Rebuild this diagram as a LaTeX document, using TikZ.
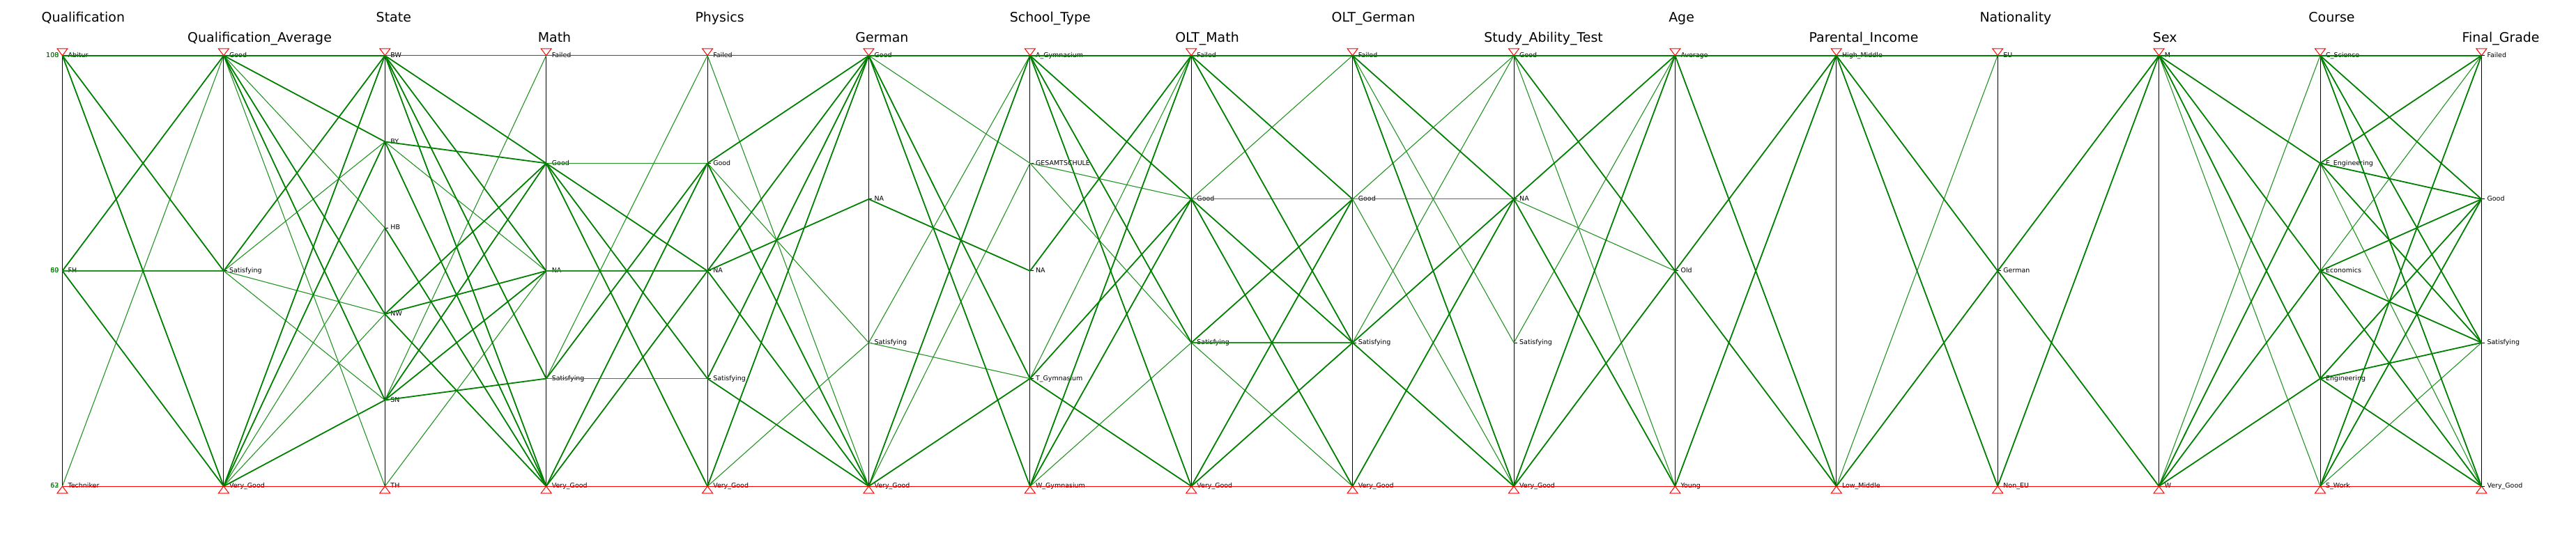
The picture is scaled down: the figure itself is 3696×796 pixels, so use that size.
\documentclass[tikz,border=0pt]{standalone}
\usepackage{fontspec}
\setmainfont{DejaVu Sans}

\definecolor{bundlegreen}{RGB}{0,128,0}
\definecolor{singlegreen}{RGB}{35,148,35}
% title sits a quarter of its width left of the axis
\newcommand\axistitle[1]{\setbox0=\hbox{#1}\hspace*{.5\wd0}\box0}

\begin{document}
\begin{tikzpicture}[x=1pt, y=-1pt,
    axisline/.style={draw=black, line width=1pt},
    tickmark/.style={draw=black, line width=1pt},
    vallabel/.style={font=\fontsize{9.5}{11}\selectfont, inner sep=0pt},
    titlelabel/.style={font=\fontsize{19}{21}\selectfont, inner sep=0pt},
    countlabel/.style={text=bundlegreen, font=\fontsize{9.5}{11}\selectfont, inner sep=0pt},
    limitmark/.style={draw=red, line width=1pt},
    limitline/.style={draw=red, line width=1pt},
    bundle/.style={draw=bundlegreen, line width=1.8pt},
    single/.style={draw=singlegreen, line width=1.1pt}]
    \fill[white] (0,0) rectangle (3696,796);

    % axes, ticks, value labels and titles
    \foreach \nm/\i/\nv/\ttl/\vals in {
        qual/0/3/Qualification/{Abitur,FH,Techniker},
        qavg/1/3/Qualification\_Average/{Good,Satisfying,Very\_Good},
        state/2/6/State/{BW,BY,HB,NW,SN,TH},
        math/3/5/Math/{Failed,Good,NA,Satisfying,Very\_Good},
        phys/4/5/Physics/{Failed,Good,NA,Satisfying,Very\_Good},
        germ/5/4/German/{Good,NA,Satisfying,Very\_Good},
        school/6/5/School\_Type/{A\_Gymnasium,GESAMTSCHULE,NA,T\_Gymnasium,W\_Gymnasium},
        oltm/7/4/OLT\_Math/{Failed,Good,Satisfying,Very\_Good},
        oltg/8/4/OLT\_German/{Failed,Good,Satisfying,Very\_Good},
        sat/9/4/Study\_Ability\_Test/{Good,NA,Satisfying,Very\_Good},
        age/10/3/Age/{Average,Old,Young},
        income/11/2/Parental\_Income/{High\_Middle,Low\_Middle},
        nat/12/3/Nationality/{EU,German,Non\_EU},
        sex/13/2/Sex/{M,W},
        course/14/5/Course/{C\_Science,E\_Engineering,Economics,Engineering,S\_Work},
        grade/15/4/Final\_Grade/{Failed,Good,Satisfying,Very\_Good}} {
        \pgfmathsetmacro\xx{80+232*\i}
        \pgfmathsetmacro\ty{mod(\i,2)==0 ? 32 : 61}
        \node[titlelabel, anchor=base] (\nm-title) at (\xx,\ty) {\axistitle{\ttl}};
        \draw[axisline] (\xx,80) -- (\xx,700);
        \draw[limitmark] (\xx-7.5,70) -- (\xx+7.5,70) -- (\xx,80) -- cycle;
        \draw[limitmark] (\xx-7.5,710) -- (\xx+7.5,710) -- (\xx,700) -- cycle;
        \foreach \v [count=\cnt] in \vals {
            \pgfmathsetmacro\yy{80+620*(\cnt-1)/(\nv-1)}
            \coordinate (\nm-\cnt) at (\xx,\yy);
            \draw[tickmark] (\nm-\cnt) -- ++(5,0);
            \node[vallabel, anchor=mid west] (\nm-\cnt-text) at ([xshift=8pt]\nm-\cnt) {\v};
        }
    }

    % counts left of the first axis
    \node[countlabel, anchor=mid east] (count-top) at ([xshift=-5pt]qual-1) {100};
    \node[countlabel, anchor=mid east] (count-top-b) at ([xshift=-5pt]qual-1) {108};
    \node[countlabel, anchor=mid east] (count-mid) at ([xshift=-5pt]qual-2) {60};
    \node[countlabel, anchor=mid east] (count-mid-b) at ([xshift=-5pt]qual-2) {89};
    \node[countlabel, anchor=mid east] (count-low) at ([xshift=-5pt]qual-3) {62};
    \node[countlabel, anchor=mid east] (count-low-b) at ([xshift=-5pt]qual-3) {63};

    % Qualification -> Qualification_Average
    \foreach \a/\b in {2/2,3/1} \draw[single] (qual-\a) -- (qavg-\b);
    \foreach \a/\b in {1/1,1/2,1/3,2/1,2/3} \draw[bundle] (qual-\a) -- (qavg-\b);
    % Qualification_Average -> State
    \foreach \a/\b in {1/3,1/6,2/2,2/4,2/5,3/3,3/4} \draw[single] (qavg-\a) -- (state-\b);
    \foreach \a/\b in {1/1,1/2,1/4,1/5,2/1,3/1,3/2,3/5} \draw[bundle] (qavg-\a) -- (state-\b);
    % State -> Math
    \foreach \a/\b in {2/3,5/1,6/3} \draw[single] (state-\a) -- (math-\b);
    \foreach \a/\b in {1/2,1/3,1/4,1/5,2/2,2/5,3/5,4/2,4/3,4/5,5/2,5/3,5/4} \draw[bundle] (state-\a) -- (math-\b);
    % Math -> Physics
    \foreach \a/\b in {2/2,3/3,4/1,4/4} \draw[single] (math-\a) -- (phys-\b);
    \foreach \a/\b in {2/3,2/4,2/5,4/2,5/2,5/3} \draw[bundle] (math-\a) -- (phys-\b);
    % Physics -> German
    \foreach \a/\b in {1/4,2/3,5/3} \draw[single] (phys-\a) -- (germ-\b);
    \foreach \a/\b in {2/1,2/4,3/1,3/2,3/4,4/1,4/4,5/1} \draw[bundle] (phys-\a) -- (germ-\b);
    % German -> School_Type
    \foreach \a/\b in {1/2,3/1,3/4,4/2} \draw[single] (germ-\a) -- (school-\b);
    \foreach \a/\b in {1/1,1/4,1/5,2/3,4/1,4/4} \draw[bundle] (germ-\a) -- (school-\b);
    % School_Type -> OLT_Math
    \foreach \a/\b in {2/2,2/3,4/1,5/3} \draw[single] (school-\a) -- (oltm-\b);
    \foreach \a/\b in {1/1,1/2,1/3,1/4,3/1,4/2,4/4,5/1,5/2} \draw[bundle] (school-\a) -- (oltm-\b);
    % OLT_Math -> OLT_German
    \foreach \a/\b in {2/1,2/2,3/3,3/4} \draw[single] (oltm-\a) -- (oltg-\b);
    \foreach \a/\b in {1/1,1/2,1/3,2/3,2/4,3/2,4/2,4/3} \draw[bundle] (oltm-\a) -- (oltg-\b);
    % OLT_German -> Study_Ability_Test
    \foreach \a/\b in {1/3,2/1,2/2,2/4,3/1} \draw[single] (oltg-\a) -- (sat-\b);
    \foreach \a/\b in {1/1,1/2,1/4,3/2,3/4,4/2} \draw[bundle] (oltg-\a) -- (sat-\b);
    % Study_Ability_Test -> Age
    \foreach \a/\b in {1/3,2/2,3/1} \draw[single] (sat-\a) -- (age-\b);
    \foreach \a/\b in {1/1,1/2,2/1,2/3,4/1,4/2} \draw[bundle] (sat-\a) -- (age-\b);
    % Age -> Parental_Income
    \foreach \a/\b in {1/1,1/2,2/1,2/2,3/1} \draw[bundle] (age-\a) -- (income-\b);
    % Parental_Income -> Nationality
    \foreach \a/\b in {2/1} \draw[single] (income-\a) -- (nat-\b);
    \foreach \a/\b in {1/1,1/2,1/3,2/2} \draw[bundle] (income-\a) -- (nat-\b);
    % Nationality -> Sex
    \foreach \a/\b in {1/1,2/1,2/2,3/1} \draw[bundle] (nat-\a) -- (sex-\b);
    % Sex -> Course
    \foreach \a/\b in {1/5,2/1} \draw[single] (sex-\a) -- (course-\b);
    \foreach \a/\b in {1/1,1/2,1/3,1/4,2/2,2/3,2/4} \draw[bundle] (sex-\a) -- (course-\b);
    % Course -> Final_Grade
    \foreach \a/\b in {2/4,3/1,5/3} \draw[single] (course-\a) -- (grade-\b);
    \foreach \a/\b in {1/1,1/2,1/3,1/4,2/1,2/2,2/3,3/2,3/3,3/4,4/2,4/3,4/4,5/1,5/2} \draw[bundle] (course-\a) -- (grade-\b);

    % upper and lower limits
    \draw[limitline] (qual-1) -- (grade-1);
    \draw[limitline] (qual-3) -- (grade-4);
\end{tikzpicture}
\end{document}
